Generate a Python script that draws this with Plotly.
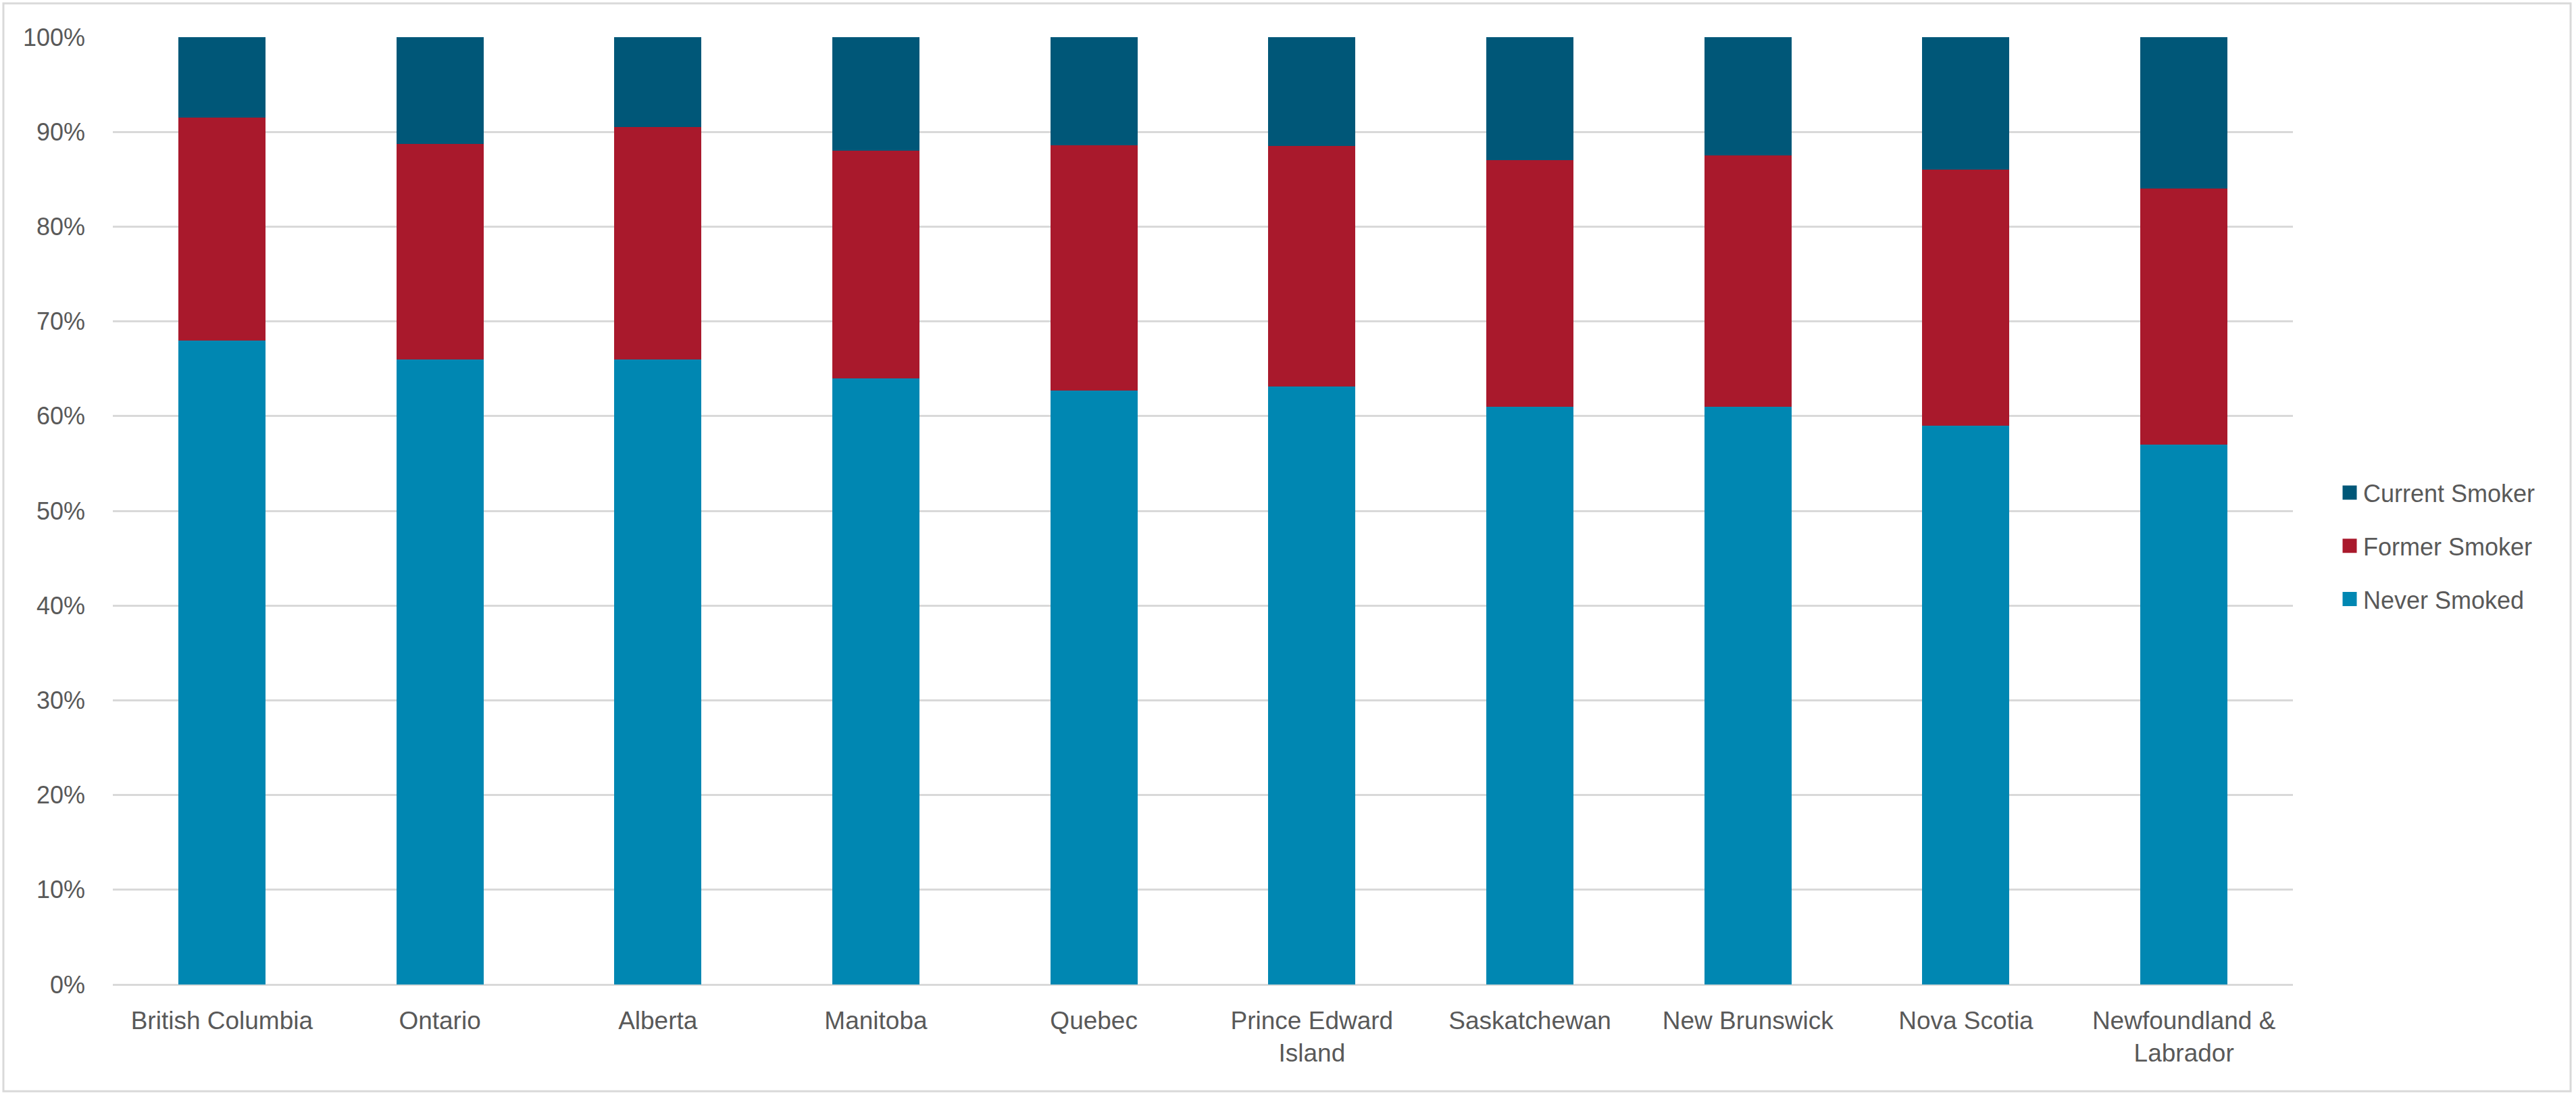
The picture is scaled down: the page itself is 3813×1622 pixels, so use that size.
import plotly.graph_objects as go

provinces = ["British Columbia", "Ontario", "Alberta", "Manitoba", "Quebec",
             "Prince Edward<br>Island", "Saskatchewan", "New Brunswick",
             "Nova Scotia", "Newfoundland &<br>Labrador"]
never_smoked = [68.0, 66.0, 66.0, 64.0, 62.7, 63.1, 61.0, 61.0, 59.0, 57.0]
former_smoker = [23.5, 22.7, 24.5, 24.0, 25.9, 25.4, 26.0, 26.5, 27.0, 27.0]
current_smoker = [8.5, 11.3, 9.5, 12.0, 11.4, 11.5, 13.0, 12.5, 14.0, 16.0]
y_ticks = [0, 10, 20, 30, 40, 50, 60, 70, 80, 90, 100]

series = [
    ("Never Smoked", never_smoked, "#0087B2"),
    ("Former Smoker", former_smoker, "#A9192C"),
    ("Current Smoker", current_smoker, "#005778"),
]

W, H = 3813, 1622
L, R, T, B = 167, 3394, 55, 1457

fig = go.Figure()
for name, vals, col in series:
    fig.add_trace(go.Bar(x=provinces, y=vals, name=name, marker_color=col,
                         marker_line_width=0, showlegend=False))
for name, vals, col in reversed(series):
    fig.add_trace(go.Scatter(x=[None], y=[None], mode="markers", name=name,
                             legendgroup=name,
                             marker=dict(symbol="square", size=16, color=col,
                                         line=dict(color=col, width=5))))

def px_x(p):
    return (p - L) / (R - L)

def px_y(p):
    return (B - p) / (B - T)

fig.add_shape(type="rect", xref="paper", yref="paper",
              x0=px_x(5), x1=px_x(3805), y0=px_y(1615), y1=px_y(5),
              line=dict(color="#D9D9D9", width=3), fillcolor="rgba(0,0,0,0)",
              layer="below")

fig.update_layout(
    width=W, height=H,
    margin=dict(l=L, r=W - R, t=T, b=H - B, pad=0),
    barmode="stack", bargap=0.6,
    paper_bgcolor="white", plot_bgcolor="white",
    font=dict(family="Liberation Sans, Arial, sans-serif", size=37, color="#595959"),
    legend=dict(x=px_x(3458), y=px_y(808), xanchor="left", yanchor="middle",
                traceorder="grouped", tracegroupgap=29,
                font=dict(size=36, color="#595959"), bgcolor="rgba(0,0,0,0)"),
    xaxis=dict(showgrid=False, showline=False, ticks="", tickfont=dict(size=37),
               ticklabelstandoff=28),
    yaxis=dict(range=[0, 100], tickvals=y_ticks, ticktext=[f"{v}%" for v in y_ticks],
               showgrid=True, gridcolor="#D9D9D9", gridwidth=3,
               zeroline=True, zerolinecolor="#D9D9D9", zerolinewidth=3,
               showline=False, ticks="", ticklabelstandoff=40, tickfont=dict(size=36)),
)

fig.write_html("out.html")
